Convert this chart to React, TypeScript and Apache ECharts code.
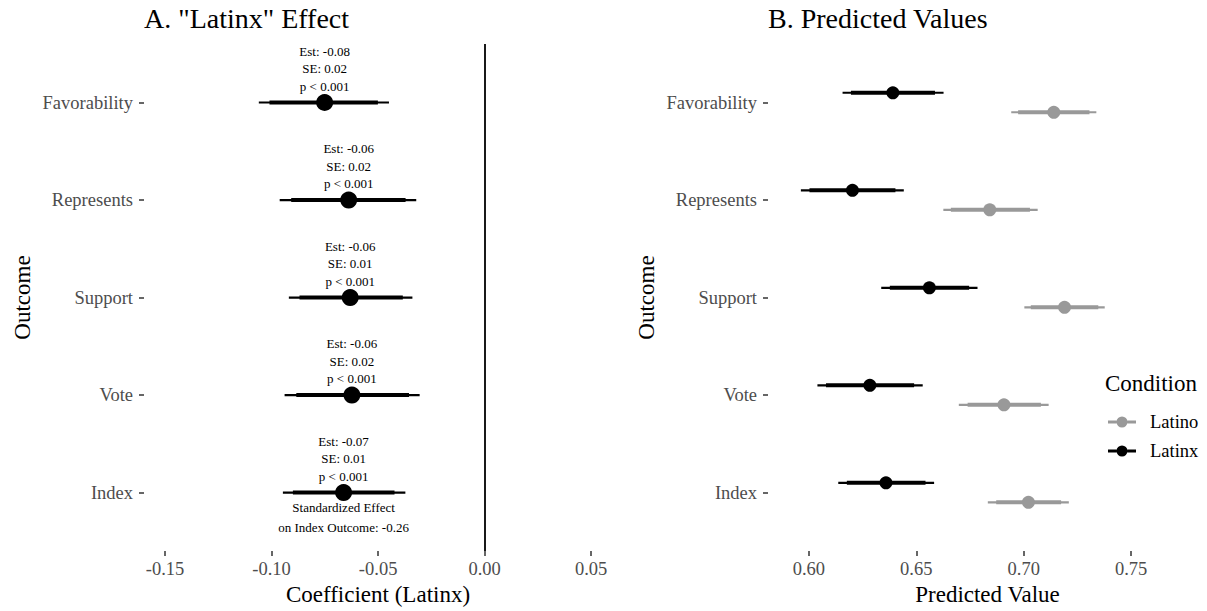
import React, { useEffect, useRef } from 'react';
import * as echarts from 'echarts';

// ---------- Data ----------
const outcomes = ['Favorability', 'Represents', 'Support', 'Vote', 'Index'];

// Panel A: "Latinx" effect (coefficients)
const coefEst = [-0.0751, -0.0638, -0.0631, -0.0623, -0.0662];
const coefLo95 = [-0.106, -0.0962, -0.0919, -0.0939, -0.0947];
const coefHi95 = [-0.0449, -0.0321, -0.0339, -0.0305, -0.0372];
const coefLo90 = [-0.101, -0.0908, -0.0869, -0.0884, -0.09];
const coefHi90 = [-0.0501, -0.0371, -0.0384, -0.0355, -0.0423];
const coefEstLabel = ['-0.08', '-0.06', '-0.06', '-0.06', '-0.07'];
const coefSE = ['0.02', '0.02', '0.01', '0.02', '0.01'];
const coefP = ['< 0.001', '< 0.001', '< 0.001', '< 0.001', '< 0.001'];
const standardizedIndexEffect = '-0.26';

// Panel B: predicted values
const conditions = ['Latino', 'Latinx'];
const latinoEst = [0.714, 0.6842, 0.719, 0.6908, 0.7022];
const latinoLo95 = [0.6942, 0.6626, 0.7003, 0.6698, 0.6833];
const latinoHi95 = [0.7338, 0.7065, 0.7377, 0.7116, 0.721];
const latinoLo90 = [0.6974, 0.6661, 0.7033, 0.6739, 0.6872];
const latinoHi90 = [0.7306, 0.7029, 0.7347, 0.708, 0.7174];

const latinxEst = [0.6391, 0.6203, 0.6561, 0.6284, 0.6359];
const latinxLo95 = [0.6157, 0.5963, 0.6337, 0.604, 0.6137];
const latinxHi95 = [0.6627, 0.6442, 0.6785, 0.653, 0.6583];
const latinxLo90 = [0.6196, 0.6003, 0.6377, 0.608, 0.6177];
const latinxHi90 = [0.6587, 0.6403, 0.6746, 0.649, 0.6543];

const coefTicks = [-0.15, -0.1, -0.05, 0, 0.05];
const predTicks = [0.6, 0.65, 0.7, 0.75];
const outcomeTicks = [1, 2, 3, 4, 5];

// ---------- Styling ----------
const FONT = '"Liberation Serif", "Times New Roman", serif';
const LATINO_COLOR = '#999999';
const LATINX_COLOR = '#000000';
const DODGE = 0.1;

const ciRender = (color: string, thin: number, thick: number) => (params: any, api: any) => {
  const y = api.value(0);
  const a = api.coord([api.value(1), y]);
  const b = api.coord([api.value(2), y]);
  const c = api.coord([api.value(3), y]);
  const d = api.coord([api.value(4), y]);
  return {
    type: 'group',
    children: [
      { type: 'line', shape: { x1: a[0], y1: a[1], x2: b[0], y2: b[1] }, style: { stroke: color, lineWidth: thin } },
      { type: 'line', shape: { x1: c[0], y1: c[1], x2: d[0], y2: d[1] }, style: { stroke: color, lineWidth: thick } },
    ],
  };
};

const yAxisBase = (gridIndex: number) => ({
  type: 'value',
  gridIndex,
  min: 0.4,
  max: 5.6,
  inverse: true,
  name: 'Outcome',
  nameLocation: 'middle',
  nameRotate: 90,
  nameGap: 110,
  nameTextStyle: { fontFamily: FONT, fontSize: 23, color: '#000' },
  axisLine: { show: false, onZero: false },
  splitLine: { show: false },
  axisTick: { show: true, length: 5, customValues: outcomeTicks, lineStyle: { color: '#333333', width: 1.5 } },
  axisLabel: {
    customValues: outcomeTicks,
    margin: 11,
    fontFamily: FONT,
    fontSize: 18.5,
    color: '#4D4D4D',
    formatter: (v: number) => outcomes[Math.round(v) - 1] ?? '',
  },
});

const xAxisBase = (gridIndex: number, name: string, min: number, max: number, ticks: number[]) => ({
  type: 'value',
  gridIndex,
  min,
  max,
  name,
  nameLocation: 'middle',
  nameGap: 28,
  nameTextStyle: { fontFamily: FONT, fontSize: 23, color: '#000' },
  axisLine: { show: false, onZero: false },
  splitLine: { show: false },
  axisTick: { show: true, length: 5, customValues: ticks, lineStyle: { color: '#333333', width: 1.5 } },
  axisLabel: {
    customValues: ticks,
    margin: 8,
    fontFamily: FONT,
    fontSize: 18.5,
    color: '#4D4D4D',
    formatter: (v: number) => v.toFixed(2),
  },
});

const legendIcon =
  'path://M0,4.5 L8.6,4.5 L8.6,7.5 L0,7.5 Z M19.4,4.5 L28,4.5 L28,7.5 L19.4,7.5 Z M8.5,6 A5.5,5.5 0 1,1 19.5,6 A5.5,5.5 0 1,1 8.5,6 Z';

export default function App() {
  const ref = useRef<HTMLDivElement>(null);

  useEffect(() => {
    if (!ref.current) return;
    const chart = echarts.init(ref.current, undefined, { renderer: 'svg' });

    const coefCI = outcomes.map((_, i) => [i + 1, coefLo95[i], coefHi95[i], coefLo90[i], coefHi90[i]]);
    const coefPts = outcomes.map((_, i) => [coefEst[i], i + 1]);
    const latinoCI = outcomes.map((_, i) => [i + 1 + DODGE, latinoLo95[i], latinoHi95[i], latinoLo90[i], latinoHi90[i]]);
    const latinxCI = outcomes.map((_, i) => [i + 1 - DODGE, latinxLo95[i], latinxHi95[i], latinxLo90[i], latinxHi90[i]]);
    const latinoPts = outcomes.map((_, i) => [latinoEst[i], i + 1 + DODGE]);
    const latinxPts = outcomes.map((_, i) => [latinxEst[i], i + 1 - DODGE]);
    const indexPos = outcomes.indexOf('Index');

    chart.setOption({
      animation: false,
      backgroundColor: '#ffffff',
      title: [
        {
          text: 'A. "Latinx" Effect',
          left: 144,
          top: 4,
          padding: 0,
          textStyle: { fontFamily: FONT, fontSize: 28, fontWeight: 'normal', color: '#000' },
        },
        {
          text: 'B. Predicted Values',
          left: 768,
          top: 4,
          padding: 0,
          textStyle: { fontFamily: FONT, fontSize: 28, fontWeight: 'normal', color: '#000' },
        },
      ],
      grid: [
        { left: 144, top: 44, width: 468, height: 509.6, containLabel: false },
        { left: 768, top: 44, width: 470, height: 509.6, containLabel: false },
      ],
      xAxis: [
        xAxisBase(0, 'Coefficient (Latinx)', -0.1599, 0.0598, coefTicks),
        xAxisBase(1, 'Predicted Value', 0.581, 0.7853, predTicks),
      ],
      yAxis: [yAxisBase(0), yAxisBase(1)],
      legend: {
        data: [
          { name: conditions[0], icon: legendIcon },
          { name: conditions[1], icon: legendIcon },
        ],
        orient: 'vertical',
        left: 1108,
        top: 412,
        padding: 0,
        itemWidth: 28,
        itemHeight: 11,
        itemGap: 9,
        selectedMode: false,
        textStyle: { fontFamily: FONT, fontSize: 18.5, color: '#000', lineHeight: 20, padding: [0, 0, 0, 9] },
      },
      graphic: [
        {
          type: 'text',
          left: 1105,
          top: 372,
          style: { text: 'Condition', fontFamily: FONT, fontSize: 23, fill: '#000' },
        },
      ],
      series: [
        {
          type: 'custom',
          name: 'coefCI',
          xAxisIndex: 0,
          yAxisIndex: 0,
          renderItem: ciRender('#000', 2.2, 4),
          encode: { x: [1, 2, 3, 4], y: 0 },
          data: coefCI,
          silent: true,
          markLine: {
            silent: true,
            symbol: 'none',
            label: { show: false },
            lineStyle: { color: '#000', width: 1.8, type: 'solid' },
            data: [{ xAxis: 0 }],
          },
        },
        {
          type: 'scatter',
          name: 'coef',
          xAxisIndex: 0,
          yAxisIndex: 0,
          symbolSize: 17,
          itemStyle: { color: '#000', opacity: 1 },
          data: coefPts,
          silent: true,
          z: 3,
          label: {
            show: true,
            position: 'top',
            distance: -1,
            fontFamily: FONT,
            fontSize: 13,
            lineHeight: 17.5,
            color: '#000',
            align: 'center',
            formatter: (p: any) =>
              `Est: ${coefEstLabel[p.dataIndex]}\nSE: ${coefSE[p.dataIndex]}\np ${coefP[p.dataIndex]}`,
          },
        },
        {
          type: 'scatter',
          name: 'indexNote',
          xAxisIndex: 0,
          yAxisIndex: 0,
          symbolSize: 0,
          itemStyle: { color: '#000', opacity: 1 },
          data: [coefPts[indexPos]],
          silent: true,
          z: 1,
          label: {
            show: true,
            position: 'bottom',
            distance: 5.5,
            fontFamily: FONT,
            fontSize: 13,
            lineHeight: 19.3,
            color: '#000',
            opacity: 1,
            align: 'center',
            formatter: () => `Standardized Effect\non Index Outcome: ${standardizedIndexEffect}`,
          },
        },
        {
          type: 'custom',
          name: conditions[0],
          xAxisIndex: 1,
          yAxisIndex: 1,
          renderItem: ciRender(LATINO_COLOR, 2.2, 4),
          encode: { x: [1, 2, 3, 4], y: 0 },
          data: latinoCI,
          itemStyle: { color: LATINO_COLOR },
          silent: true,
        },
        {
          type: 'custom',
          name: conditions[1],
          xAxisIndex: 1,
          yAxisIndex: 1,
          renderItem: ciRender(LATINX_COLOR, 2.2, 4),
          encode: { x: [1, 2, 3, 4], y: 0 },
          data: latinxCI,
          itemStyle: { color: LATINX_COLOR },
          silent: true,
        },
        {
          type: 'scatter',
          name: conditions[0],
          xAxisIndex: 1,
          yAxisIndex: 1,
          symbolSize: 13,
          itemStyle: { color: LATINO_COLOR, opacity: 1 },
          data: latinoPts,
          silent: true,
        },
        {
          type: 'scatter',
          name: conditions[1],
          xAxisIndex: 1,
          yAxisIndex: 1,
          symbolSize: 13,
          itemStyle: { color: LATINX_COLOR, opacity: 1 },
          data: latinxPts,
          silent: true,
        },
      ],
    });

    return () => chart.dispose();
  }, []);

  return (
    <div
      ref={ref}
      style={{ position: 'fixed', left: 0, top: 0, width: 1207, height: 611, background: '#fff' }}
    />
  );
}
